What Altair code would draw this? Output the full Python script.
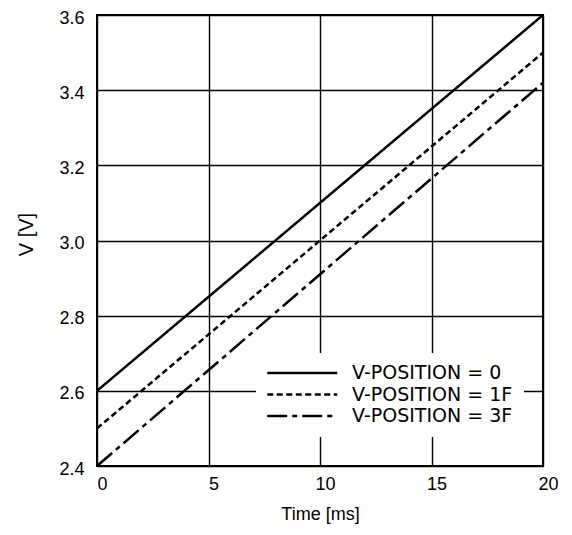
import altair as alt
import pandas as pd

time_ms = [0, 20]
series_names = ["V-POSITION = 0", "V-POSITION = 1F", "V-POSITION = 3F"]
v_pos0 = [2.6, 3.6]
v_pos1 = [2.5, 3.5]
v_pos3 = [2.4, 3.42]
x_ticks = [0, 5, 10, 15, 20]
y_ticks = [2.4, 2.6, 2.8, 3.0, 3.2, 3.4, 3.6]

rows = []
for name, vals in zip(series_names, [v_pos0, v_pos1, v_pos3]):
    for t, v in zip(time_ms, vals):
        rows.append({"Time": t, "V": v, "series": name})
df = pd.DataFrame(rows)

FONT = "Liberation Sans"

chart = alt.Chart(df).mark_line(strokeWidth=2.5, color="black", clip=True).encode(
    x=alt.X("Time:Q",
            scale=alt.Scale(domain=[0, 20], nice=False),
            axis=alt.Axis(values=x_ticks, title="Time [ms]", grid=True, gridColor="black",
                          gridWidth=1.4, gridOpacity=1, domain=False, ticks=False,
                          labelPadding=9, labelOffset=5, labelFontSize=18, labelFont=FONT,
                          labelColor="black", labelFlush=False,
                          titleFont=FONT, titleFontSize=18,
                          titleFontWeight="normal", titleColor="black",
                          titleBaseline="top", titleY=39)),
    y=alt.Y("V:Q",
            scale=alt.Scale(domain=[2.4, 3.6], nice=False, zero=False),
            axis=alt.Axis(values=y_ticks, format=".1f", title="V [V]", grid=True,
                          gridColor="black", gridWidth=1.4, gridOpacity=1, domain=False,
                          ticks=False, labelPadding=13, labelOffset=3, labelFontSize=18,
                          labelFont=FONT, labelColor="black", labelFlush=False,
                          titleFont=FONT, titleFontSize=20,
                          titleFontWeight="normal", titleColor="black",
                          titleAngle=-90, titleAlign="center", titleBaseline="middle",
                          titleX=-71, titleY=219)),
    strokeDash=alt.StrokeDash("series:N",
                              scale=alt.Scale(domain=series_names,
                                              range=[[1, 0], [6, 3.5], [20, 5, 5, 5]]),
                              legend=alt.Legend(title=None, orient="none", legendX=159,
                                                legendY=338, padding=10, fillColor="white",
                                                strokeColor="white", symbolType="M-1,0H7",
                                                symbolSize=306, symbolStrokeWidth=2.5,
                                                symbolStrokeColor="black", labelOffset=66,
                                                labelFont="DejaVu Sans", labelFontSize=19,
                                                labelColor="black", rowPadding=1.5,
                                                labelLimit=300)),
).properties(
    width=446,
    height=451,
    autosize=alt.AutoSizeParams(type="none"),
    padding={"left": 89, "top": 7, "right": 20, "bottom": 60},
    background="white",
).configure_view(stroke="black", strokeWidth=2)

chart.save("out.html", embed_options={"renderer": "svg", "actions": False})
